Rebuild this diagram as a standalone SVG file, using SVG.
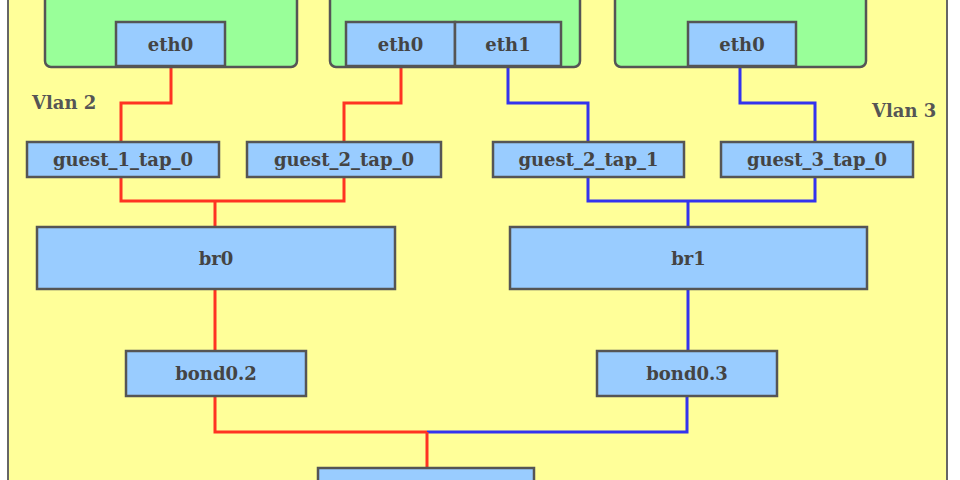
<svg xmlns="http://www.w3.org/2000/svg" width="960" height="480" viewBox="0 0 960 480">
<style>
.vm{fill:#99ff99;stroke:#555;stroke-width:2.5}
.nic{fill:#99ccff;stroke:#555;stroke-width:2.5}
.t{font-family:"DejaVu Serif","Liberation Serif",serif;font-weight:bold;font-size:18px;fill:#444;text-anchor:middle;dominant-baseline:central}
.lbl{font-family:"DejaVu Serif","Liberation Serif",serif;font-weight:bold;font-size:18px;fill:#555}
.red{fill:none;stroke:#ff3322;stroke-width:3}
.blue{fill:none;stroke:#3333ee;stroke-width:3}
</style>
<rect x="0" y="0" width="960" height="480" fill="#ffffff"/>
<rect id="vlan-panel" x="8" y="-10" width="939" height="500" fill="#ffff99" stroke="#666" stroke-width="2"/>
<text class="lbl" x="32" y="109">Vlan 2</text>
<text class="lbl" x="872" y="117">Vlan 3</text>

<g id="connectors">
  <path class="red" d="M171 66 V103 H121 V142"/>
  <path class="red" d="M401 66 V103 H344 V142"/>
  <path class="red" d="M121 177 V201 H344 V177"/>
  <path class="red" d="M215 201 V227"/>
  <path class="red" d="M215 289 V351"/>
  <path class="red" d="M215 396 V432 H427"/>
  <path class="blue" d="M508 66 V103 H588 V142"/>
  <path class="blue" d="M740 66 V103 H815 V142"/>
  <path class="blue" d="M588 177 V201 H815 V177"/>
  <path class="blue" d="M688 201 V227"/>
  <path class="blue" d="M688 289 V351"/>
  <path class="blue" d="M687 396 V432 H427"/>
  <path class="red" d="M427 432 V468" stroke="#ee2233"/>
</g>

<g id="guest1">
  <rect class="vm" x="45" y="-20" width="252" height="87" rx="6"/>
  <g id="guest1-eth0"><rect class="nic" x="116" y="22" width="109" height="44"/><text class="t" x="170.5" y="44">eth0</text></g>
</g>
<g id="guest2">
  <rect class="vm" x="330" y="-20" width="250" height="87" rx="6"/>
  <g id="guest2-eth0"><rect class="nic" x="346" y="22" width="109" height="44"/><text class="t" x="400.5" y="44">eth0</text></g>
  <g id="guest2-eth1"><rect class="nic" x="455" y="22" width="106" height="44"/><text class="t" x="508" y="44">eth1</text></g>
</g>
<g id="guest3">
  <rect class="vm" x="615" y="-20" width="251" height="87" rx="6"/>
  <g id="guest3-eth0"><rect class="nic" x="688" y="22" width="108" height="44"/><text class="t" x="742" y="44">eth0</text></g>
</g>

<g id="guest_1_tap_0"><rect class="nic" x="27" y="142" width="192" height="35"/><text class="t" x="123" y="159.5">guest_1_tap_0</text></g>
<g id="guest_2_tap_0"><rect class="nic" x="247" y="142" width="194" height="35"/><text class="t" x="344" y="159.5">guest_2_tap_0</text></g>
<g id="guest_2_tap_1"><rect class="nic" x="493" y="142" width="191" height="35"/><text class="t" x="588.5" y="159.5">guest_2_tap_1</text></g>
<g id="guest_3_tap_0"><rect class="nic" x="721" y="142" width="192" height="35"/><text class="t" x="817" y="159.5">guest_3_tap_0</text></g>

<g id="br0"><rect class="nic" x="37" y="227" width="358" height="62"/><text class="t" x="216" y="258">br0</text></g>
<g id="br1"><rect class="nic" x="510" y="227" width="357" height="62"/><text class="t" x="688.5" y="258">br1</text></g>

<g id="bond0.2"><rect class="nic" x="126" y="351" width="180" height="45"/><text class="t" x="216" y="373.5">bond0.2</text></g>
<g id="bond0.3"><rect class="nic" x="597" y="351" width="180" height="45"/><text class="t" x="687" y="373.5">bond0.3</text></g>

<g id="bond0"><rect class="nic" x="318" y="468" width="216" height="40"/></g>
</svg>
